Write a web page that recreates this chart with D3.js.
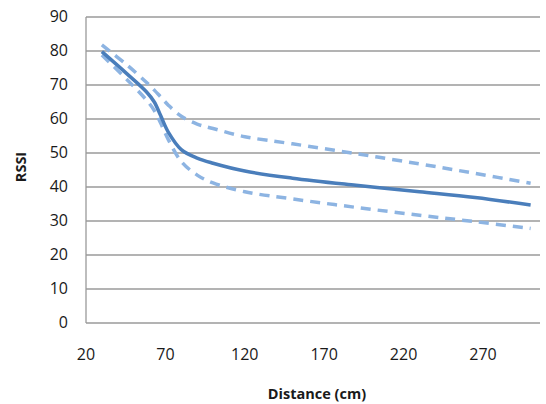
<!DOCTYPE html>
<html><head><meta charset="utf-8">
<script src="https://cdn.jsdelivr.net/npm/d3@7"></script>
<style>body{margin:0;background:#fff}svg{display:block}text{font-family:"Open Sans",sans-serif;fill:#1a1a1a}</style>
</head><body>
<svg id="c" width="546" height="404"></svg>
<script>
const distance = [30, 46, 58, 63, 67, 72, 80, 90, 100, 120, 150, 190, 230, 265, 300];
const rssiMean = [79.8, 73.2, 68, 65, 61, 56, 51, 48.5, 47, 44.7, 42.6, 40.5, 38.6, 36.9, 34.7];
const rssiUpper = [81.8, 75.8, 70.8, 68.5, 66.5, 64, 60.8, 58.5, 57.2, 54.8, 52.7, 49.8, 46.8, 44, 41.1];
const rssiLower = [78.8, 71.5, 65.6, 62.5, 58.8, 53.8, 47.5, 43.5, 41.2, 38.6, 36.5, 34, 31.7, 29.8, 27.8];
const xTicks = [20, 70, 120, 170, 220, 270];
const yTicks = [0, 10, 20, 30, 40, 50, 60, 70, 80, 90];

const svg = d3.select("#c");
const L = 86, R = 540, T = 17, B = 323;
const x = d3.scaleLinear().domain([20, 305.9]).range([L, R]);
const y = d3.scaleLinear().domain([0, 90]).range([B, T]);

svg.append("g").selectAll("line").data(yTicks).join("line")
  .attr("x1", L).attr("x2", R).attr("y1", d => y(d)).attr("y2", d => y(d))
  .attr("stroke", "#9a9a9a").attr("stroke-width", 1.3);
svg.append("line").attr("x1", L).attr("x2", L).attr("y1", T).attr("y2", B)
  .attr("stroke", "#9a9a9a").attr("stroke-width", 1.3);

svg.append("g").selectAll("text").data(yTicks).join("text")
  .attr("x", 68).attr("y", d => y(d) + 1).attr("text-anchor", "end")
  .attr("dominant-baseline", "middle").attr("font-size", 16).text(d => d);
svg.append("g").selectAll("text").data(xTicks).join("text")
  .attr("x", d => x(d)).attr("y", 356).attr("text-anchor", "middle")
  .attr("dominant-baseline", "middle").attr("font-size", 16).text(d => d);

svg.append("text").attr("x", 317).attr("y", 395).attr("text-anchor", "middle")
  .attr("dominant-baseline", "middle").attr("font-size", 14.5).attr("font-weight", "bold")
  .text("Distance (cm)");
svg.append("text").attr("transform", "translate(22,167) rotate(-90)")
  .attr("text-anchor", "middle").attr("dominant-baseline", "middle")
  .attr("font-size", 14.5).attr("font-weight", "bold").text("RSSI");

const line = d3.line().x((d, i) => x(distance[i])).y(d => y(d)).curve(d3.curveCatmullRom.alpha(0.5));

[[rssiUpper, true], [rssiLower, true], [rssiMean, false]].forEach(([s, dashed]) => {
  svg.append("path").datum(s).attr("d", line).attr("fill", "none")
    .attr("stroke", dashed ? "#8db4e2" : "#4a7ebb")
    .attr("stroke-width", 3.5)
    .attr("stroke-dasharray", dashed ? "10,7" : null)
    .attr("stroke-linejoin", "round");
});
</script>
</body></html>
